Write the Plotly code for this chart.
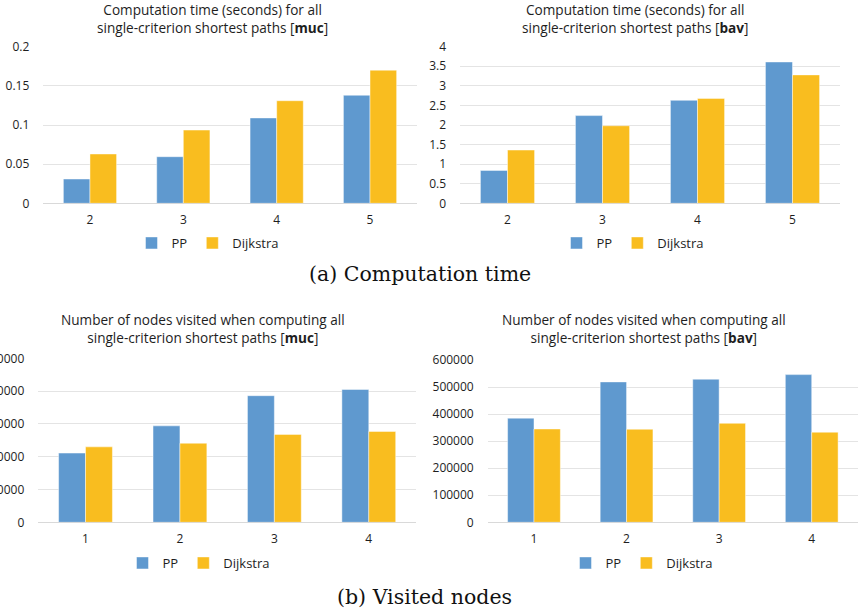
import plotly.graph_objects as go

# Computation time (seconds) for all single-criterion shortest paths
time_muc_k = ["2", "3", "4", "5"]
time_muc_pp = [0.031, 0.0595, 0.109, 0.138]
time_muc_dijkstra = [0.063, 0.0935, 0.131, 0.170]

time_bav_k = ["2", "3", "4", "5"]
time_bav_pp = [0.84, 2.24, 2.63, 3.61]
time_bav_dijkstra = [1.36, 1.98, 2.68, 3.28]

# Number of nodes visited when computing all single-criterion shortest paths
nodes_muc_k = ["1", "2", "3", "4"]
nodes_muc_pp = [211000, 294000, 386000, 405000]
nodes_muc_dijkstra = [230000, 241000, 268000, 277000]

nodes_bav_k = ["1", "2", "3", "4"]
nodes_bav_pp = [385000, 519000, 529000, 546000]
nodes_bav_dijkstra = [345000, 344000, 366000, 333000]

W, H = 858, 613
BLUE = "#5F99CF"
GOLD = "#F9BD1F"
FONT = "Open Sans"
TEXT = "#1e1e1e"


def px_x(v):
    return v / W


def px_y(v):
    return 1 - v / H


fig = go.Figure()

panels = [
    # (x-axis id, y-axis id, legend id, categories, pp, dijkstra)
    ("x", "y", "legend", time_muc_k, time_muc_pp, time_muc_dijkstra),
    ("x2", "y2", "legend2", time_bav_k, time_bav_pp, time_bav_dijkstra),
    ("x3", "y3", "legend3", nodes_muc_k, nodes_muc_pp, nodes_muc_dijkstra),
    ("x4", "y4", "legend4", nodes_bav_k, nodes_bav_pp, nodes_bav_dijkstra),
]

for xa, ya, lg, cats, pp, dj in panels:
    fig.add_trace(go.Bar(x=cats, y=pp, name="PP", marker_color=BLUE,
                         marker_line=dict(color="rgba(255,255,255,0.45)", width=1),
                         xaxis=xa, yaxis=ya, legend=lg))
    fig.add_trace(go.Bar(x=cats, y=dj, name="Dijkstra", marker_color=GOLD,
                         marker_line=dict(color="rgba(255,255,255,0.45)", width=1),
                         xaxis=xa, yaxis=ya, legend=lg))

# plot areas in pixels: (left, right, top, bottom)
areas = [
    (43.3, 416.7, 46.7, 203.3),
    (460.0, 840.0, 46.7, 203.3),
    (38.3, 416.0, 358.3, 522.3),
    (487.7, 858.0, 360.0, 522.3),
]
yranges = [(0, 0.2, 0.05), (0, 4, 0.5), (0, 500000, 100000), (0, 600000, 100000)]

layout = dict(
    width=W, height=H,
    margin=dict(l=0, r=0, t=0, b=0, autoexpand=False),
    paper_bgcolor="white", plot_bgcolor="white",
    barmode="group", bargap=0.43, bargroupgap=0,
    font=dict(family=FONT, size=12, color=TEXT),
)

for i, ((l, r, t, b), (y0, y1, dy)) in enumerate(zip(areas, yranges)):
    sfx = "" if i == 0 else str(i + 1)
    layout["xaxis" + sfx] = dict(
        domain=[px_x(l), px_x(r)], anchor="y" + sfx, type="category",
        automargin=False, showgrid=False, showline=False, zeroline=False,
        ticks="", ticklabelstandoff=8,
        tickfont=dict(family=FONT, size=12, color=TEXT),
    )
    layout["yaxis" + sfx] = dict(
        domain=[px_y(b), px_y(t)], anchor="x" + sfx, automargin=False,
        range=[y0, y1], dtick=dy, tick0=0, tickformat="d" if y1 > 100 else "",
        showgrid=True, gridcolor="#E4E4E4", gridwidth=1,
        zeroline=True, zerolinecolor="#D9D9D9", zerolinewidth=1,
        showline=False, ticks="", ticklabelstandoff=13,
        tickfont=dict(family=FONT, size=12, color=TEXT),
    )

# legends below each panel
legend_pos = [(208, 243), (633, 243), (199, 563), (642, 563)]
for i, (cx, cy) in enumerate(legend_pos):
    key = "legend" if i == 0 else "legend" + str(i + 1)
    layout[key] = dict(
        orientation="h", x=px_x(cx), y=px_y(cy), xanchor="center", yanchor="middle",
        font=dict(family=FONT, size=13, color=TEXT), bgcolor="rgba(0,0,0,0)",
        itemwidth=30, traceorder="normal",
    )

fig.update_layout(**layout)

# panel titles
titles = [
    (212, "Computation time (seconds) for all<br>single-criterion shortest paths [<b>muc</b>]"),
    (635, "Computation time (seconds) for all<br>single-criterion shortest paths [<b>bav</b>]"),
    (203, "Number of nodes visited when computing all<br>single-criterion shortest paths [<b>muc</b>]"),
    (644, "Number of nodes visited when computing all<br>single-criterion shortest paths [<b>bav</b>]"),
]
title_y = [18.5, 18.5, 328.5, 328.5]
for (cx, txt), cy in zip(titles, title_y):
    fig.add_annotation(x=px_x(cx), y=px_y(cy), xref="paper", yref="paper",
                       text=txt, showarrow=False, xanchor="center", yanchor="middle",
                       font=dict(family=FONT, size=13.6, color=TEXT), align="center")

# sub-figure captions
for cx, cy, txt in [(420, 274, "(a) Computation time"), (424, 597, "(b) Visited nodes")]:
    fig.add_annotation(x=px_x(cx), y=px_y(cy), xref="paper", yref="paper",
                       text=txt, showarrow=False, xanchor="center", yanchor="middle",
                       font=dict(family="DejaVu Serif", size=20.5, color="#111111"))

fig.write_html("out.html")
